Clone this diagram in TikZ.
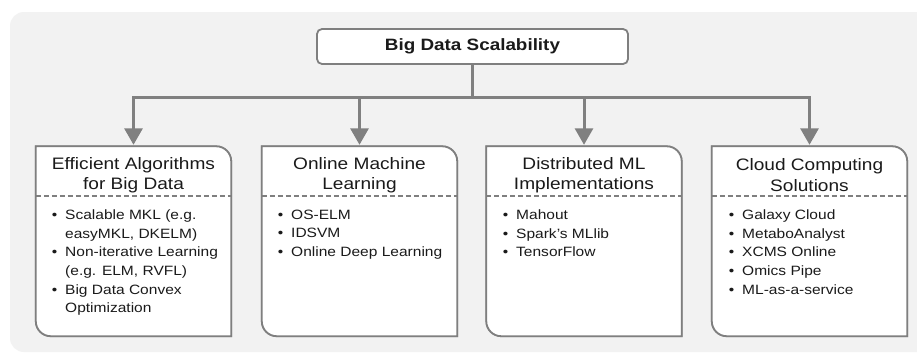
\documentclass[tikz,border=0pt]{standalone}
\usepackage{fontspec}
\setmainfont{Liberation Sans}[FakeStretch=1.15]
\usetikzlibrary{arrows.meta,backgrounds}
\definecolor{bggray}{HTML}{F2F2F2}
\definecolor{linegray}{HTML}{7F7F7F}
\definecolor{arrgray}{HTML}{808080}
\definecolor{txt}{HTML}{1A1A1A}
\newcommand\cardshape[2]{%
  \draw[#2] (#1.north west) -- ([xshift=-15pt]#1.north east)
    .. controls ([xshift=-6.7pt]#1.north east) and ([yshift=-6.7pt]#1.north east) .. ([yshift=-15pt]#1.north east)
    -- (#1.south east) -- ([xshift=15pt]#1.south west)
    .. controls ([xshift=6.7pt]#1.south west) and ([yshift=6.7pt]#1.south west) .. ([yshift=15pt]#1.south west)
    -- cycle;}
\newcommand\carddash[1]{%
  \draw[dashline] ([yshift=-49.5pt]#1.north west) -- ([yshift=-49.5pt]#1.north east);}
\newcommand\bul{\llap{•\hspace{8pt}}}
\begin{document}
\begin{tikzpicture}[x=1pt,y=-1pt,
  cardframe/.style={inner sep=0pt, minimum width=195pt, minimum height=189.5pt},
  cardline/.style={draw=linegray, line width=1.8pt, fill=white},
  cardshadow/.style={draw=linegray!70, line width=1.8pt, shift={(1,1)}},
  dashline/.style={draw=linegray, line width=1.4pt, dash pattern=on 5pt off 3pt},
  conn/.style={draw=arrgray, line width=3pt},
  arr/.style={conn, -{Triangle[length=16.5pt,width=18pt]}, shorten >=1.5pt},
  titlebox/.style={draw=linegray, line width=1.8pt, fill=white, rounded corners=5pt,
    minimum width=311pt, minimum height=35pt, inner sep=0pt, text=txt,
    font=\bfseries\fontsize{16.4}{19}\selectfont},
  headtext/.style={align=center, text=txt, inner sep=0pt, font=\fontsize{16.6}{20.5}\selectfont},
  listtext/.style={align=left, anchor=north west, text=txt, inner sep=0pt, font=\fontsize{13.5}{18.7}\selectfont},
]
\useasboundingbox (0,0) rectangle (917,359);
\fill[white] (0,0) rectangle (917,359);
\fill[bggray, rounded corners=14pt] (10,12) rectangle (945,352);

\node[titlebox] (top) at (472.5,46.5) {Big Data Scalability};

\node[cardframe] (b1) at (133.5,241.25) {};
\node[cardframe] (b2) at (359.5,241.25) {};
\node[cardframe] (b3) at (584,241.25) {};
\node[cardframe] (b4) at (809.5,241.25) {};

\foreach \b in {b1,b2,b3,b4}{
  \cardshape{\b}{cardshadow}
  \cardshape{\b}{cardline}
  \carddash{\b}
}

\coordinate (bus) at (472.5,97);
\draw[conn] (top.south) -- (bus);
\draw[arr] (bus) -| (b1.north);
\draw[arr] (bus) -| (b2.north);
\draw[arr] (bus) -| (b3.north);
\draw[arr] (bus) -| (b4.north);

\node[headtext] (h1) at (133.5,175) {Efficient Algorithms\\for Big Data};
\node[headtext] (h2) at (359.5,175) {Online Machine\\Learning};
\node[headtext] (h3) at (584,175) {Distributed ML\\Implementations};
\node[headtext] (h4) at (809.5,175) {Cloud Computing\\Solutions};

\node[listtext] (l1) at (65,209.5) {\bul Scalable MKL (e.g.\\easyMKL, DKELM)\\\bul Non-iterative Learning\\(e.g. ELM, RVFL)\\\bul Big Data Convex\\Optimization};
\node[listtext] (l2) at (291,209.5) {\bul OS-ELM\\\bul IDSVM\\\bul Online Deep Learning};
\node[listtext] (l3) at (516,209.5) {\bul Mahout\\\bul Spark’s MLlib\\\bul TensorFlow};
\node[listtext] (l4) at (742,209.5) {\bul Galaxy Cloud\\\bul MetaboAnalyst\\\bul XCMS Online\\\bul Omics Pipe\\\bul ML-as-a-service};
\end{tikzpicture}
\end{document}
